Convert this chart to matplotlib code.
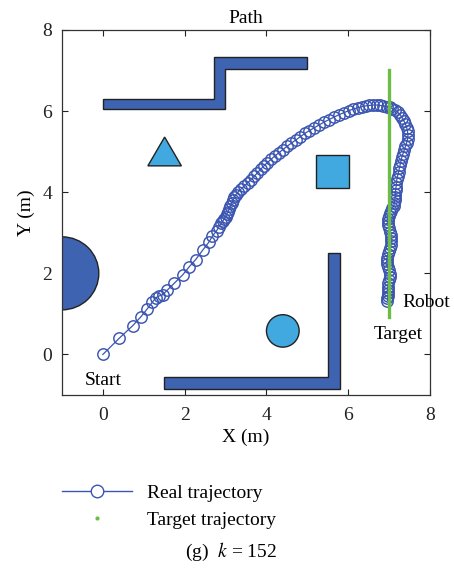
import matplotlib
matplotlib.use("Agg")
import matplotlib.pyplot as plt
from matplotlib.patches import Polygon, Circle
from matplotlib.lines import Line2D

plt.rcParams['font.family'] = ['Liberation Serif', 'DejaVu Serif']
plt.rcParams['mathtext.fontset'] = 'stix'

# ---------------- data ----------------
traj_x = [0.00, 0.40, 0.73, 0.93, 1.09, 1.21, 1.30, 1.37, 1.46, 1.58, 1.74, 1.95, 2.11, 2.27,
          2.44, 2.60, 2.68, 2.78, 2.84, 2.90, 2.94, 2.97, 3.00, 3.03, 3.06, 3.09, 3.12, 3.15,
          3.18, 3.21, 3.25, 3.31, 3.38, 3.46, 3.54, 3.62, 3.70, 3.78, 3.86, 3.94, 4.02, 4.11,
          4.20, 4.30, 4.40, 4.50, 4.61, 4.72, 4.83, 4.94, 5.05, 5.17, 5.29, 5.41, 5.53, 5.65,
          5.77, 5.89, 6.01, 6.12, 6.23, 6.33, 6.43, 6.52, 6.61, 6.70, 6.78, 6.86, 6.94, 7.01,
          7.08, 7.15, 7.21, 7.27, 7.32, 7.36, 7.40, 7.43, 7.45, 7.46, 7.45, 7.43, 7.40, 7.37,
          7.34, 7.31, 7.29, 7.27, 7.25, 7.23, 7.21, 7.19, 7.18, 7.17, 7.16, 7.15, 7.15, 7.14,
          7.13, 7.11, 7.08, 7.05, 7.02, 6.99, 6.97, 6.97, 6.98, 7.00, 7.02, 7.04, 7.05, 7.05,
          7.04, 7.02, 7.00, 6.97, 6.95, 6.94, 6.95, 6.97, 6.99, 7.01, 7.01, 7.00, 6.98, 6.97,
          6.97, 6.97, 6.97, 6.96, 6.96]
traj_y = [0.00, 0.40, 0.71, 0.93, 1.13, 1.29, 1.40, 1.44, 1.47, 1.59, 1.75, 1.96, 2.16, 2.34,
          2.57, 2.78, 2.92, 3.05, 3.15, 3.24, 3.30, 3.35, 3.40, 3.46, 3.52, 3.59, 3.66, 3.73,
          3.80, 3.87, 3.94, 4.01, 4.08, 4.15, 4.23, 4.31, 4.39, 4.48, 4.57, 4.65, 4.73, 4.81,
          4.89, 4.97, 5.05, 5.13, 5.21, 5.29, 5.37, 5.45, 5.52, 5.59, 5.66, 5.73, 5.79, 5.85,
          5.91, 5.96, 6.01, 6.05, 6.08, 6.11, 6.13, 6.14, 6.15, 6.15, 6.14, 6.13, 6.11, 6.09,
          6.06, 6.02, 5.97, 5.91, 5.84, 5.76, 5.68, 5.59, 5.50, 5.40, 5.31, 5.22, 5.13, 5.04,
          4.95, 4.86, 4.77, 4.68, 4.59, 4.50, 4.41, 4.32, 4.23, 4.14, 4.05, 3.96, 3.88, 3.80,
          3.73, 3.66, 3.60, 3.54, 3.48, 3.42, 3.35, 3.27, 3.19, 3.11, 3.03, 2.95, 2.87, 2.79,
          2.71, 2.63, 2.55, 2.47, 2.39, 2.31, 2.23, 2.15, 2.07, 1.99, 1.91, 1.83, 1.75, 1.67,
          1.59, 1.51, 1.44, 1.38, 1.33]

target_x = [7.0, 7.0]
target_y = [0.92, 7.02]

wall_top = [(0.0, 6.04), (2.99, 6.04), (2.99, 7.03), (5.0, 7.03), (5.0, 7.33),
            (2.71, 7.33), (2.71, 6.30), (0.0, 6.30)]
wall_L = [(1.5, -0.85), (5.8, -0.85), (5.8, 2.5), (5.5, 2.5), (5.5, -0.55), (1.5, -0.55)]
triangle = [(1.1, 4.65), (1.92, 4.65), (1.51, 5.36)]
square = [(5.2, 4.1), (6.02, 4.1), (6.02, 4.91), (5.2, 4.91)]
big_circle = ((-1.0, 2.0), 0.9)
small_circle = ((4.4, 0.58), 0.4)

x_ticks = [0, 2, 4, 6, 8]
y_ticks = [0, 2, 4, 6, 8]

# ---------------- style ----------------
dark_blue = '#3E63B0'
light_blue = '#41A9E0'
edge = '#222222'
traj_col = '#3B55B0'
green = '#6BBE45'
fs = 14

W, H = 454, 573
fig = plt.figure(figsize=(W / 100, H / 100), dpi=100)
ax = fig.add_axes([62 / W, 1 - 395 / H, 368 / W, 365 / H])

ax.add_patch(Polygon(wall_top, closed=True, fc=dark_blue, ec=edge, lw=1.0, zorder=2))
ax.add_patch(Polygon(wall_L, closed=True, fc=dark_blue, ec=edge, lw=1.0, zorder=2))
ax.add_patch(Polygon(triangle, closed=True, fc=light_blue, ec=edge, lw=1.0, zorder=2))
ax.add_patch(Polygon(square, closed=True, fc=light_blue, ec=edge, lw=1.0, zorder=2))
ax.add_patch(Circle(big_circle[0], big_circle[1], fc=dark_blue, ec=edge, lw=1.0, zorder=2))
ax.add_patch(Circle(small_circle[0], small_circle[1], fc=light_blue, ec=edge, lw=1.0, zorder=2))

ax.plot(traj_x, traj_y, '-', color=traj_col, lw=0.9, marker='o', ms=8.2,
        mfc='none', mec=traj_col, mew=1.05, zorder=3)
ax.plot(target_x, target_y, '-', color=green, lw=2.4, zorder=4)

ax.text(0.0, -0.65, 'Start', fontsize=fs, ha='center', va='center')
ax.text(7.33, 1.27, 'Robot', fontsize=fs, ha='left', va='center', clip_on=False)
ax.text(6.62, 0.48, 'Target', fontsize=fs, ha='left', va='center')

ax.set_xlim(-1, 8)
ax.set_ylim(-1, 8)
ax.set_xticks(x_ticks)
ax.set_yticks(y_ticks)
ax.tick_params(direction='in', top=True, right=True, labelsize=fs, length=4, width=0.8,
               colors='#222222')
ax.tick_params(axis='x', pad=9)
ax.tick_params(axis='y', pad=7)
for s in ax.spines.values():
    s.set_linewidth(0.9)
    s.set_color('#333333')
ax.set_title('Path', fontsize=fs, pad=5)
ax.set_xlabel('X (m)', fontsize=fs, labelpad=3)
ax.set_ylabel('Y (m)', fontsize=fs, labelpad=5)

handles = [Line2D([], [], color=traj_col, lw=1.0, marker='o', ms=9, mfc='white',
                  mec=traj_col, mew=1.0),
           Line2D([], [], color=green, lw=0, marker='.', ms=4)]
fig.legend(handles, ['Real trajectory', 'Target trajectory'], loc='upper left',
           bbox_to_anchor=(62 / W, 1 - 484 / H), frameon=False, fontsize=fs,
           handlelength=3.6, handletextpad=0.75, labelspacing=0.5,
           borderpad=0, borderaxespad=0)

fig.text(231 / W, 1 - 552 / H, '(g)  $k$ = 152', fontsize=fs, ha='center', va='center')

fig.savefig('out.png', dpi=100)
